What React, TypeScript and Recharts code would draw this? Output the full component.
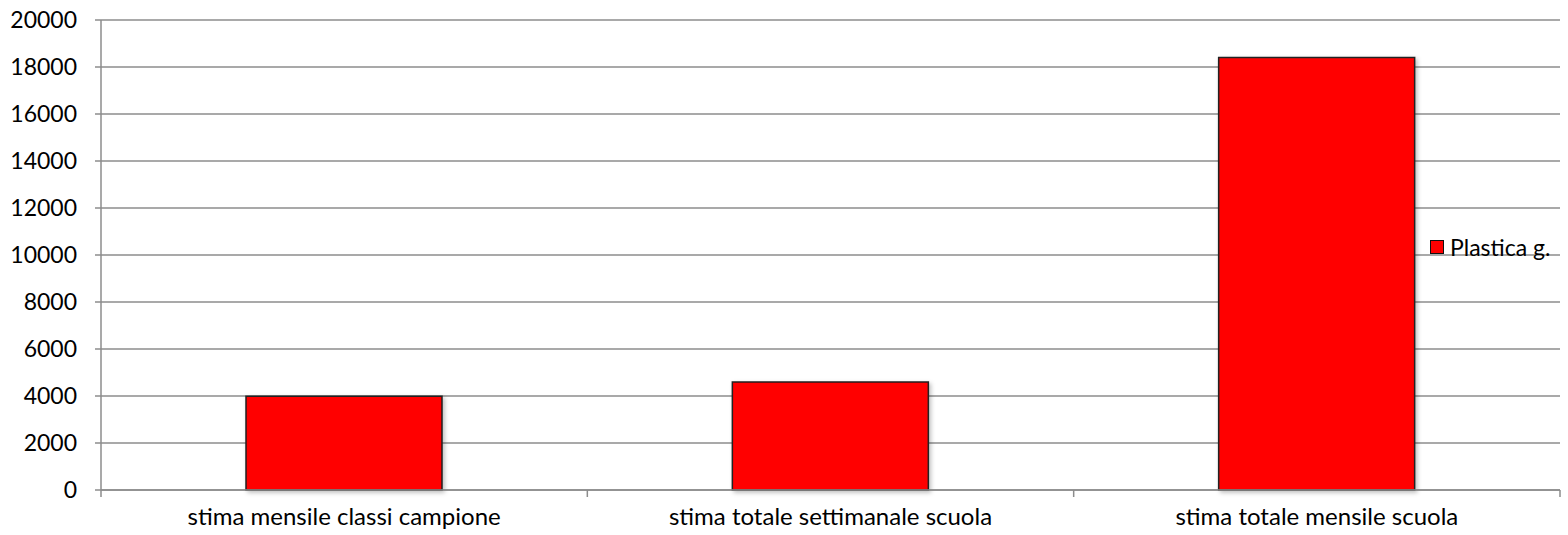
import React from 'react';
import { BarChart, Bar, XAxis, YAxis, CartesianGrid } from 'recharts';

const categories = [
  'stima mensile classi campione',
  'stima totale settimanale scuola',
  'stima totale mensile scuola',
];
const plasticaValues = [3990, 4600, 18400];
const yTicks = [0, 2000, 4000, 6000, 8000, 10000, 12000, 14000, 16000, 18000, 20000];
const seriesName = 'Plastica g.';

const data = categories.map((name, i) => ({ name, plastica: plasticaValues[i] }));

const FONT = 'Lato, "Open Sans", sans-serif';
const BAND = (1560 - 101) / 3;

const CategoryTick = (props: any) => {
  const { x, y, payload, index } = props;
  return (
    <g>
      <line x1={x - BAND / 2} x2={x - BAND / 2} y1={y - 8} y2={y - 1} stroke="#8c8c8c" strokeWidth={1.5} />
      {index === categories.length - 1 && (
        <line x1={x + BAND / 2} x2={x + BAND / 2} y1={y - 8} y2={y - 1} stroke="#8c8c8c" strokeWidth={1.5} />
      )}
      <text x={x} y={y + 27} textAnchor="middle" fill="#000" fontSize={24} fontFamily={FONT}>
        {payload.value}
      </text>
    </g>
  );
};

export default function App() {
  return (
    <div style={{ position: 'absolute', left: 0, top: 0, width: 1568, height: 535, background: '#fff' }}>
      <BarChart
        width={1568}
        height={535}
        data={data}
        margin={{ top: 20, right: 8, left: 0, bottom: 0 }}
      >
        <defs>
          <filter id="barShadow" x="-10%" y="-10%" width="130%" height="130%">
            <feDropShadow dx="2" dy="2" stdDeviation="2" floodColor="#000" floodOpacity="0.25" />
          </filter>
        </defs>
        <CartesianGrid horizontal vertical={false} stroke="#8c8c8c" strokeWidth={1.5} />
        <XAxis
          dataKey="name"
          height={45}
          axisLine={{ stroke: '#8c8c8c', strokeWidth: 1.5 }}
          tickLine={false}
          tick={<CategoryTick />}
          interval={0}
        />
        <YAxis
          width={101}
          domain={[0, 20000]}
          ticks={yTicks}
          interval={0}
          axisLine={{ stroke: '#8c8c8c', strokeWidth: 1.5 }}
          tickLine={{ stroke: '#8c8c8c', strokeWidth: 1.5 }}
          tickSize={6}
          tickMargin={18}
          tick={{ fill: '#000', fontSize: 23, fontFamily: FONT }}
        />
        <Bar
          dataKey="plastica"
          name={seriesName}
          fill="#ff0000"
          stroke="#222"
          strokeWidth={1.5}
          barSize={196}
          filter="url(#barShadow)"
          isAnimationActive={false}
        />
      </BarChart>
      <div
        style={{
          position: 'absolute',
          left: 1430,
          top: 234,
          display: 'flex',
          alignItems: 'center',
          fontFamily: FONT,
          fontSize: 23,
          color: '#000',
          lineHeight: '26px',
        }}
      >
        <span style={{ width: 12, height: 12, background: '#ff0000', border: '1.5px solid #111', marginRight: 6 }} />
        {seriesName}
      </div>
    </div>
  );
}
